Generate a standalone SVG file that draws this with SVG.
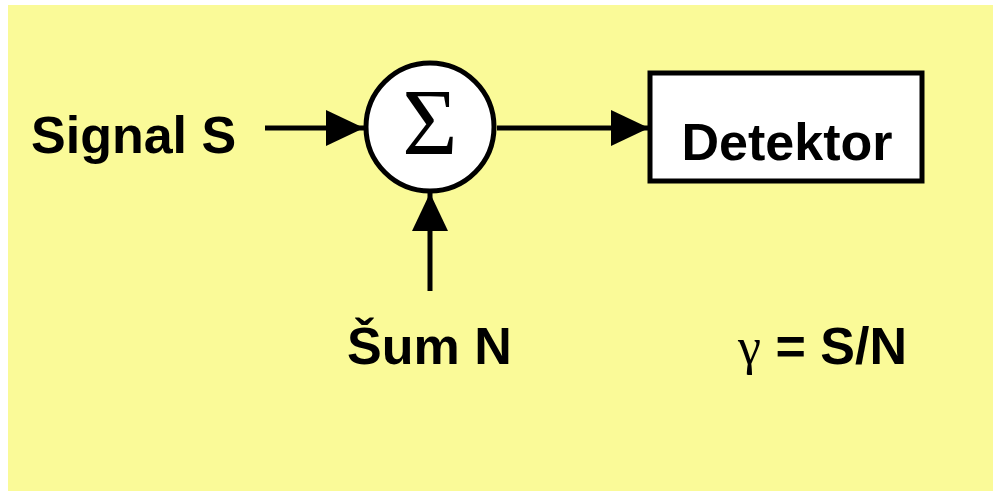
<svg xmlns="http://www.w3.org/2000/svg" width="993" height="491" viewBox="0 0 993 491">
<style>
.lbl{font-family:"Liberation Sans",Arial,sans-serif;font-weight:bold;font-size:52px;fill:#000}
.ser{font-family:"Liberation Serif","Times New Roman",serif;fill:#000}
.con{stroke:#000;stroke-width:5;fill:none}
</style>
<defs>
<marker id="ah" markerUnits="userSpaceOnUse" markerWidth="40" markerHeight="40" refX="38" refY="18" orient="auto">
<path d="M0,0 L38,18 L0,36 Z" fill="#000"/>
</marker>
</defs>
<rect x="0" y="0" width="993" height="491" fill="#fff"/>
<rect x="8" y="5" width="985" height="486" fill="#FAFA98"/>
<g id="connectors">
<line class="con" x1="265" y1="128" x2="364" y2="128" marker-end="url(#ah)"/>
<line class="con" x1="497" y1="128" x2="649" y2="128" marker-end="url(#ah)"/>
<line class="con" x1="430" y1="291" x2="430" y2="193" marker-end="url(#ah)"/>
</g>
<g id="sum">
<circle cx="430" cy="127" r="64" fill="#fff" stroke="#000" stroke-width="5"/>
<text class="ser" x="430" y="155" font-size="95" text-anchor="middle">Σ</text>
</g>
<g id="detektor">
<rect x="650" y="73" width="272" height="108" fill="#fff" stroke="#000" stroke-width="5"/>
<text class="lbl" x="787" y="160" font-size="51" text-anchor="middle">Detektor</text>
</g>
<g id="signal">
<text class="lbl" x="31" y="153">Signal S</text>
</g>
<g id="sum-n">
<text class="lbl" x="347" y="364">Šum N</text>
</g>
<g id="ratio">
<text x="738" y="364"><tspan class="ser" font-size="52">γ</tspan><tspan class="lbl"> = S/N</tspan></text>
</g>
</svg>
